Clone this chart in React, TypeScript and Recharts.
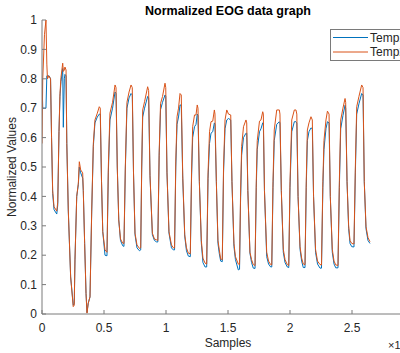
import React from 'react';
import { LineChart, Line, XAxis, YAxis } from 'recharts';

// x positions in units of 10^4 samples
const samples = [
  0, 0.006, 0.02, 0.032, 0.039, 0.044, 0.056, 0.069,
  0.077, 0.086, 0.097, 0.119,
  0.127, 0.137, 0.145, 0.153, 0.167, 0.172, 0.18, 0.185, 0.194,
  0.2, 0.212, 0.231, 0.252, 0.26,
  0.266, 0.28, 0.293, 0.301, 0.312, 0.328,
  0.333, 0.344, 0.355, 0.363, 0.373,
  0.387, 0.401, 0.414, 0.427, 0.446, 0.462, 0.47,
  0.48, 0.49, 0.508, 0.524,
  0.535, 0.548, 0.569, 0.589, 0.597,
  0.607, 0.619, 0.633, 0.651, 0.661,
  0.672, 0.685, 0.702, 0.718, 0.728,
  0.738, 0.75, 0.766, 0.786, 0.796,
  0.804, 0.812, 0.827, 0.852, 0.86,
  0.871, 0.89, 0.907, 0.925, 0.934,
  0.945, 0.956, 0.972, 0.992, 0.998,
  1.008, 1.024, 1.044, 1.059, 1.069,
  1.079, 1.089, 1.101, 1.113, 1.123,
  1.135, 1.151, 1.165, 1.18, 1.196,
  1.206, 1.215, 1.23, 1.242, 1.252, 1.258,
  1.269, 1.285, 1.298, 1.315, 1.328,
  1.339, 1.351, 1.363, 1.377, 1.39, 1.395,
  1.406, 1.419, 1.43, 1.441, 1.454,
  1.464, 1.476, 1.49, 1.504, 1.522,
  1.532, 1.548, 1.56, 1.583, 1.593,
  1.601, 1.61, 1.625, 1.645, 1.651,
  1.66, 1.677, 1.69, 1.704, 1.718,
  1.728, 1.736, 1.754, 1.766, 1.78, 1.785,
  1.794, 1.812, 1.827, 1.844, 1.853,
  1.863, 1.873, 1.893, 1.914, 1.919,
  1.93, 1.946, 1.96, 1.978, 1.99,
  2.0, 2.014, 2.035, 2.048, 2.055,
  2.065, 2.081, 2.094, 2.107, 2.121,
  2.131, 2.14, 2.153, 2.169, 2.18,
  2.19, 2.206, 2.222, 2.242, 2.254,
  2.265, 2.274, 2.29, 2.302, 2.315,
  2.325, 2.341, 2.355, 2.369, 2.387,
  2.398, 2.409, 2.427, 2.444, 2.449,
  2.46, 2.473, 2.484, 2.498, 2.516,
  2.527, 2.538, 2.556, 2.578, 2.589,
  2.599, 2.613, 2.629, 2.645,
];

const temp1 = [
  0.8, 0.7, 0.7, 0.7, 0.81, 0.81, 0.81, 0.8,
  0.6, 0.41, 0.355, 0.34,
  0.37, 0.62, 0.74, 0.79, 0.835, 0.635, 0.8, 0.815, 0.81,
  0.58, 0.35, 0.126, 0.03, 0.035,
  0.184, 0.4, 0.44, 0.5, 0.48, 0.462,
  0.42, 0.24, 0.07, 0.005, 0.037,
  0.058, 0.35, 0.57, 0.65, 0.67, 0.68, 0.68,
  0.45, 0.28, 0.2, 0.198,
  0.48, 0.66, 0.7, 0.755, 0.75,
  0.5, 0.32, 0.25, 0.232, 0.23,
  0.49, 0.7, 0.735, 0.75, 0.745,
  0.48, 0.27, 0.225, 0.215, 0.218,
  0.49, 0.67, 0.7, 0.74, 0.735,
  0.47, 0.27, 0.25, 0.245, 0.245,
  0.54, 0.695, 0.72, 0.745, 0.74,
  0.48, 0.275, 0.225, 0.218, 0.218,
  0.5, 0.645, 0.67, 0.711, 0.71,
  0.46, 0.265, 0.215, 0.197, 0.195,
  0.46, 0.6, 0.637, 0.645, 0.68, 0.675,
  0.45, 0.24, 0.175, 0.16, 0.16,
  0.46, 0.58, 0.615, 0.62, 0.65, 0.645,
  0.45, 0.24, 0.205, 0.18, 0.178,
  0.48, 0.63, 0.66, 0.665, 0.66,
  0.45, 0.23, 0.185, 0.15, 0.152,
  0.38, 0.54, 0.6, 0.615, 0.615,
  0.42, 0.207, 0.175, 0.156, 0.155,
  0.43, 0.56, 0.62, 0.63, 0.65, 0.648,
  0.42, 0.195, 0.17, 0.16, 0.16,
  0.43, 0.59, 0.645, 0.654, 0.65,
  0.42, 0.21, 0.175, 0.16, 0.158,
  0.43, 0.62, 0.654, 0.654, 0.65,
  0.4, 0.22, 0.18, 0.158, 0.158,
  0.43, 0.59, 0.62, 0.633, 0.63,
  0.4, 0.21, 0.17, 0.156, 0.156,
  0.43, 0.56, 0.63, 0.654, 0.65,
  0.4, 0.21, 0.17, 0.157, 0.157,
  0.43, 0.63, 0.675, 0.71, 0.7,
  0.45, 0.29, 0.24, 0.229, 0.228,
  0.48, 0.68, 0.715, 0.75, 0.745,
  0.45, 0.29, 0.25, 0.24,
];

const temp2 = [
  0.58, 0.8, 0.95, 1.0, 0.85, 0.8, 0.81, 0.8,
  0.6, 0.42, 0.365, 0.35,
  0.38, 0.62, 0.75, 0.805, 0.853, 0.825, 0.83, 0.84, 0.83,
  0.58, 0.354, 0.126, 0.025, 0.03,
  0.184, 0.4, 0.445, 0.518, 0.49, 0.48,
  0.42, 0.24, 0.07, 0.003, 0.037,
  0.058, 0.354, 0.58, 0.66, 0.683, 0.705, 0.7,
  0.45, 0.28, 0.218, 0.21,
  0.5, 0.683, 0.72, 0.779, 0.77,
  0.5, 0.32, 0.255, 0.241, 0.24,
  0.5, 0.72, 0.755, 0.779, 0.77,
  0.48, 0.275, 0.235, 0.223, 0.225,
  0.5, 0.694, 0.722, 0.773, 0.76,
  0.47, 0.275, 0.255, 0.252, 0.25,
  0.55, 0.716, 0.74, 0.785, 0.77,
  0.48, 0.28, 0.235, 0.225, 0.225,
  0.52, 0.671, 0.7, 0.75, 0.745,
  0.47, 0.27, 0.225, 0.207, 0.205,
  0.48, 0.637, 0.677, 0.677, 0.711, 0.7,
  0.45, 0.25, 0.19, 0.173, 0.17,
  0.48, 0.62, 0.654, 0.656, 0.694, 0.68,
  0.45, 0.25, 0.218, 0.187, 0.185,
  0.5, 0.66, 0.694, 0.68, 0.677,
  0.45, 0.24, 0.195, 0.17, 0.168,
  0.4, 0.57, 0.637, 0.66, 0.65,
  0.42, 0.21, 0.185, 0.168, 0.165,
  0.45, 0.59, 0.656, 0.66, 0.688, 0.68,
  0.42, 0.21, 0.18, 0.168, 0.167,
  0.45, 0.626, 0.694, 0.694, 0.68,
  0.42, 0.22, 0.185, 0.168, 0.165,
  0.45, 0.66, 0.694, 0.694, 0.68,
  0.4, 0.229, 0.19, 0.17, 0.168,
  0.45, 0.626, 0.65, 0.671, 0.66,
  0.4, 0.22, 0.18, 0.168, 0.167,
  0.45, 0.59, 0.66, 0.69, 0.68,
  0.4, 0.22, 0.18, 0.167, 0.165,
  0.45, 0.66, 0.7, 0.733, 0.72,
  0.45, 0.3, 0.25, 0.24, 0.238,
  0.5, 0.705, 0.74, 0.779, 0.77,
  0.45, 0.297, 0.26, 0.246,
];

const xTicks = [0, 0.5, 1, 1.5, 2, 2.5];
const yTicks = [0, 0.1, 0.2, 0.3, 0.4, 0.5, 0.6, 0.7, 0.8, 0.9, 1];

const series = [
  { key: 'temp1', name: 'Temp1', color: '#0072BD' },
  { key: 'temp2', name: 'Temp2', color: '#D95319' },
];

const data = samples.map((x, i) => ({ x, temp1: temp1[i], temp2: temp2[i] }));

const FONT = '"Liberation Sans", Arial, Helvetica, sans-serif';
const AXIS = '#7a7a7a';
const TEXT = '#262626';

export default function App() {
  return (
    <div
      style={{
        position: 'fixed',
        left: 0,
        top: 0,
        width: 400,
        height: 353,
        overflow: 'hidden',
        background: '#fff',
        fontFamily: FONT,
      }}
    >
      <LineChart
        width={420}
        height={353}
        data={data}
        margin={{ top: 20, right: 6, bottom: 0, left: 0 }}
      >
        <XAxis
          dataKey="x"
          type="number"
          domain={[0, 3]}
          ticks={xTicks}
          interval={0}
          allowDataOverflow
          height={39}
          tickSize={-4}
          tickMargin={13}
          stroke={AXIS}
          tick={{ fill: TEXT, fontSize: 12, fontFamily: FONT }}
        />
        <XAxis
          xAxisId="top"
          orientation="top"
          dataKey="x"
          type="number"
          domain={[0, 3]}
          ticks={xTicks}
          interval={0}
          height={0}
          tickSize={-4}
          tick={false}
          stroke={AXIS}
        />
        <YAxis
          type="number"
          domain={[0, 1]}
          ticks={yTicks}
          interval={0}
          width={42}
          tickSize={-4}
          tickMargin={9}
          stroke={AXIS}
          tick={{ fill: TEXT, fontSize: 12, fontFamily: FONT }}
        />
        {series.map((s) => (
          <Line
            key={s.key}
            dataKey={s.key}
            name={s.name}
            type="linear"
            stroke={s.color}
            strokeWidth={1}
            dot={false}
            activeDot={false}
            isAnimationActive={false}
          />
        ))}
      </LineChart>
      <svg
        width={400}
        height={353}
        style={{ position: 'absolute', left: 0, top: 0, pointerEvents: 'none' }}
      >
        <text x={228} y={15} textAnchor="middle" fontSize={12.5} fontWeight="bold" fill="#000" fontFamily={FONT}>
          Normalized EOG data graph
        </text>
        <text x={228} y={347} textAnchor="middle" fontSize={12} fill={TEXT} fontFamily={FONT}>
          Samples
        </text>
        <text
          x={15.5}
          y={167}
          textAnchor="middle"
          fontSize={12}
          fill={TEXT}
          fontFamily={FONT}
          transform="rotate(-90 15.5 167)"
        >
          Normalized Values
        </text>
        <text x={388} y={349} fontSize={11} fill={TEXT} fontFamily={FONT}>
          ×10
          <tspan dy={-5} fontSize={8}>4</tspan>
        </text>
        <rect x={330.5} y={29.5} width={90} height={31} fill="#fff" stroke={AXIS} />
        {series.map((s, i) => (
          <g key={s.key}>
            <line x1={333} x2={368} y1={37.5 + i * 14.5} y2={37.5 + i * 14.5} stroke={s.color} strokeWidth={1} />
            <text x={370} y={41.5 + i * 14.5} fontSize={12} fill={TEXT} fontFamily={FONT}>
              {s.name}
            </text>
          </g>
        ))}
      </svg>
    </div>
  );
}
